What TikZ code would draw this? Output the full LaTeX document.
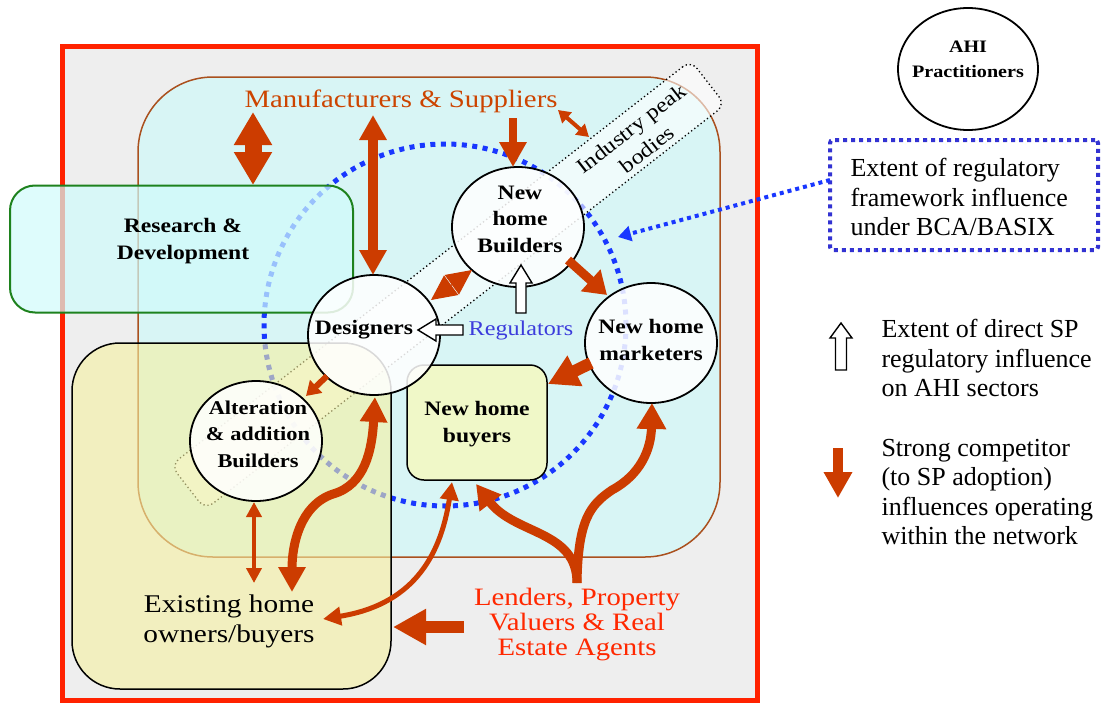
\documentclass[tikz,border=0pt]{standalone}
\usepackage{fontspec}
\setmainfont{Liberation Serif}
\newfontfamily\gara{Liberation Serif}[FakeStretch=1.15]
\usetikzlibrary{arrows.meta,shapes.geometric}

\definecolor{framered}{RGB}{255,34,0}
\definecolor{bggray}{RGB}{238,238,238}
\definecolor{zonecyan}{RGB}{216,245,245}
\definecolor{zoneline}{RGB}{170,80,30}
\definecolor{ownfill}{RGB}{245,240,160}
\definecolor{rdfill}{RGB}{208,252,252}
\definecolor{rdgreen}{RGB}{30,130,30}
\definecolor{buyfill}{RGB}{240,248,200}
\definecolor{flowc}{RGB}{204,60,0}
\definecolor{mantext}{RGB}{204,68,0}
\definecolor{lendtext}{RGB}{255,40,0}
\definecolor{ringblue}{RGB}{25,55,255}
\definecolor{regtext}{RGB}{60,60,220}
\definecolor{boxblue}{RGB}{50,50,210}

\tikzset{
  headL/.tip={Triangle[width=26pt,length=25pt]},
  headM/.tip={Triangle[width=18pt,length=18pt]},
  headS/.tip={Triangle[width=14pt,length=12pt]},
}

\begin{document}
\begin{tikzpicture}[x=1pt,y=-1pt,
  hub/.style={ellipse, draw, line width=1.8pt, fill=white, fill opacity=0.85,
    text opacity=1, minimum width=132pt, minimum height=120pt, inner sep=0pt},
  hubtext/.style={align=center, font=\gara\bfseries\fontsize{20.5}{26.5}\selectfont},
  labeltext/.style={align=center, font=\gara\fontsize{25}{29}\selectfont},
  legendtext/.style={anchor=west, align=left, font=\fontsize{26}{29.5}\selectfont},
  hollow/.style={draw=black, fill=white, line width=1.4pt, line join=miter},
]
\useasboundingbox (0,0) rectangle (1111,704);
\fill[white] (0,0) rectangle (1111,704);

% outer network frame
\draw[framered, line width=5pt, fill=bggray] (62,46) rectangle (757,700);

% new-home sector zone
\node[draw=zoneline, line width=1.5pt, fill=zonecyan, rounded corners=75pt,
  minimum width=582pt, minimum height=480pt, inner sep=0pt] (zone) at (429,317) {};

% extent of the regulatory framework
\draw[ringblue, line width=5pt, dash pattern=on 5pt off 5.5pt] (445,325) circle[radius=181pt];

% industry peak bodies band
\node[draw=black, line width=1.3pt, dash pattern=on 1.3pt off 2.7pt, fill=white,
  fill opacity=0.6, rounded corners=10pt, minimum width=659pt, minimum height=56pt,
  inner sep=0pt, rotate=37.9] (band) at (448,285) {};

% existing homes zone
\node[draw=black, line width=1.5pt, fill=ownfill, fill opacity=0.6, rounded corners=48pt,
  minimum width=319pt, minimum height=346pt, inner sep=0pt] (owners) at (231.5,516) {};

% research and development
\node[draw=rdgreen, line width=2pt, fill=rdfill, fill opacity=0.7, rounded corners=25pt,
  minimum width=343pt, minimum height=127pt, inner sep=0pt] (rd) at (181.5,249) {};

% new home buyers
\node[draw=black, line width=1.5pt, fill=buyfill, rounded corners=17pt,
  minimum width=140pt, minimum height=115pt, inner sep=0pt] (buyers) at (477,422.5) {};

% sector actors
\node[hub] (builders) at (518,227) {};
\node[hub] (designers) at (374,335) {};
\node[hub] (marketers) at (651,343) {};
\node[hub] (alteration) at (256,441) {};
\node[hub, fill opacity=1, minimum width=140pt, minimum height=122pt] (ahi) at (968,69) {};

% influence arrows
\draw[flowc, line width=17pt, {Triangle[width=36pt,length=33pt]}-{Triangle[width=36pt,length=33pt]}]
  (253,112) -- (253,185);
\draw[flowc, line width=10pt, {headL}-{headL}] (373,115) -- (373,275);
\draw[flowc, line width=8pt, -{headL}] (513,118) -- (513,167);
\draw[flowc, line width=4pt, {headS}-{headS}] (558,110) -- (589,137);
\draw[flowc, line width=1pt, {Triangle[width=24pt,length=25pt]}-{Triangle[width=24pt,length=25pt]}]
  (472,270) -- (431,300);
\draw[flowc, line width=9pt, -{Triangle[width=28pt,length=22pt]}] (568,260) -- (607,295);
\draw[flowc, line width=12pt, -{Triangle[width=32pt,length=30pt]}] (591,363) -- (548,384);
\draw[flowc, line width=6pt, -{Triangle[width=17pt,length=14pt]}] (327,376) -- (306,396);
\draw[flowc, line width=4.5pt, {Triangle[width=15pt,length=15pt]}-{Triangle[width=15pt,length=15pt]}]
  (254,502) -- (254,583);
\draw[flowc, line width=9pt, {headL}-{headL}]
  (375,397) .. controls (372,450) and (365,485) .. (333,494)
  .. controls (300,505) and (292,545) .. (292,592);
\draw[flowc, line width=5pt, {headM}-{headM}]
  (452,482) .. controls (440,560) and (410,605) .. (323,619);
\draw[flowc, line width=9pt, -{Triangle[width=26pt,length=24pt]}]
  (577,583) .. controls (577,530) and (515,535) .. (476,484);
\draw[flowc, line width=9pt, -{Triangle[width=28pt,length=26pt]}]
  (577,583) .. controls (578,520) and (590,505) .. (612,490)
  .. controls (640,475) and (651,450) .. (652,403);
\draw[flowc, line width=12pt, -{Triangle[width=34pt,length=33pt]}] (464,627) -- (393,627);

% regulators' direct influence
\draw[hollow] (516,313) -- (526,313) -- (526,283) -- (532,283) -- (521,265) -- (510,283) -- (516,283) -- cycle;
\draw[hollow] (463,325) -- (463,335) -- (436,335) -- (436,341) -- (418,330) -- (436,319) -- (436,325) -- cycle;

% extent box and leader
\node[draw=boxblue, line width=4pt, dash pattern=on 4pt off 4pt, rounded corners=3pt,
  minimum width=268pt, minimum height=110pt, inner sep=0pt] (extent) at (964,195) {};
\coordinate (lead) at (830,180);
\draw[ringblue, line width=4pt, dash pattern=on 4pt off 4pt, -{Triangle[width=15pt,length=13pt]}]
  (lead) -- (618,237);

% legend symbols
\draw[hollow] (835.5,370) -- (846.5,370) -- (846.5,338) -- (852,338) -- (841,323) -- (830,338) -- (835.5,338) -- cycle;
\draw[flowc, line width=10pt, -{Triangle[width=27pt,length=26pt]}] (838,448) -- (838,498);

% labels
\node[hubtext] (buyerst) at (477,424) {New home\\buyers};
\node[hubtext] (builderst) at (520,219) {New\\home\\Builders};
\node[hubtext] (designerst) at (364,330) {Designers};
\node[hubtext] (marketerst) at (651,340) {New home\\marketers};
\node[hubtext, font=\gara\bfseries\fontsize{19.5}{26.5}\selectfont] (alterationt) at (258,434) {Alteration\\\& addition\\Builders};
\node[align=center, font=\gara\bfseries\fontsize{17.5}{25}\selectfont] (ahit) at (968,59) {AHI\\Practitioners};
\node[hubtext] (rdt) at (183,241) {Research \&\\Development};
\node[labeltext, text=mantext] (mfr) at (401,101) {Manufacturers \& Suppliers};
\node[align=center, font=\gara\fontsize{21}{24}\selectfont, text=regtext] (reg) at (521,330) {Regulators};
\node[labeltext, font=\gara\fontsize{25.5}{30}\selectfont] (ownt) at (229,621) {Existing home\\owners/buyers};
\node[labeltext, font=\gara\fontsize{25}{25}\selectfont, text=lendtext] (lend) at (577,625) {Lenders, Property\\Valuers \& Real\\Estate Agents};
\node[align=center, font=\gara\fontsize{21}{26}\selectfont, rotate=37.9] (ipb) at (639,139) {Industry peak\\bodies};
\node[legendtext] (extentt) at (847,197) {Extent of regulatory\\framework influence\\under BCA/BASIX};
\node[legendtext] (leg1) at (878,358) {Extent of direct SP\\regulatory influence\\on AHI sectors};
\node[legendtext] (leg2) at (878,492) {Strong competitor\\(to SP adoption)\\influences operating\\within the network};
\end{tikzpicture}
\end{document}
